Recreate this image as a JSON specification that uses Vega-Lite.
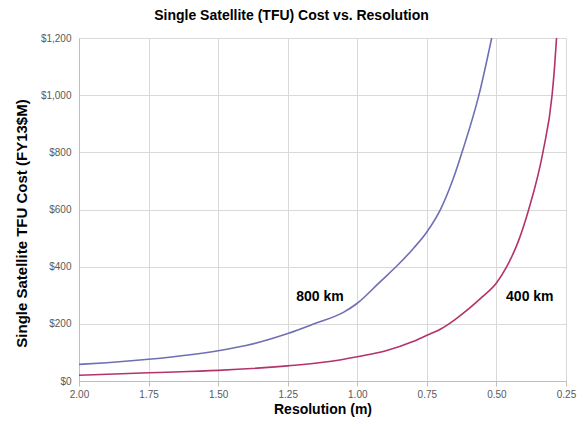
{
  "$schema": "https://vega.github.io/schema/vega-lite/v6.json",
  "autosize": "none",
  "width": 487,
  "height": 343,
  "padding": {"left": 79, "top": 38, "right": 15, "bottom": 40},
  "background": "white",
  "config": {
    "font": "Liberation Sans",
    "view": {"stroke": null},
    "axis": {
      "gridColor": "#d9d9d9",
      "gridWidth": 1,
      "domainColor": "#bfbfbf",
      "tickColor": "#bfbfbf",
      "labelColor": "#595959",
      "labelFont": "Liberation Sans",
      "labelFontSize": 10,
      "labelFlush": false,
      "titleFont": "Liberation Sans",
      "titleFontWeight": "bold",
      "titleColor": "#000000"
    }
  },
  "title": {
    "text": "Single Satellite (TFU) Cost vs. Resolution",
    "font": "Liberation Sans",
    "fontSize": 14,
    "fontWeight": "bold",
    "color": "#000000",
    "anchor": "middle",
    "dx": -31,
    "offset": 10
  },
  "datasets": {
    "curves": [
      {"res": 2.0, "cost": 58, "alt": "800 km"},
      {"res": 1.9, "cost": 64, "alt": "800 km"},
      {"res": 1.75, "cost": 76, "alt": "800 km"},
      {"res": 1.6, "cost": 92, "alt": "800 km"},
      {"res": 1.5, "cost": 106, "alt": "800 km"},
      {"res": 1.4, "cost": 124, "alt": "800 km"},
      {"res": 1.25, "cost": 166, "alt": "800 km"},
      {"res": 1.15, "cost": 202, "alt": "800 km"},
      {"res": 1.05, "cost": 240, "alt": "800 km"},
      {"res": 1.0, "cost": 272, "alt": "800 km"},
      {"res": 0.92, "cost": 345, "alt": "800 km"},
      {"res": 0.85, "cost": 410, "alt": "800 km"},
      {"res": 0.8, "cost": 462, "alt": "800 km"},
      {"res": 0.75, "cost": 521, "alt": "800 km"},
      {"res": 0.7, "cost": 602, "alt": "800 km"},
      {"res": 0.657, "cost": 703, "alt": "800 km"},
      {"res": 0.621, "cost": 808, "alt": "800 km"},
      {"res": 0.563, "cost": 1000, "alt": "800 km"},
      {"res": 0.517, "cost": 1200, "alt": "800 km"},
      {"res": 2.0, "cost": 20, "alt": "400 km"},
      {"res": 1.75, "cost": 29, "alt": "400 km"},
      {"res": 1.5, "cost": 37, "alt": "400 km"},
      {"res": 1.25, "cost": 53, "alt": "400 km"},
      {"res": 1.1, "cost": 68, "alt": "400 km"},
      {"res": 1.0, "cost": 85, "alt": "400 km"},
      {"res": 0.9, "cost": 105, "alt": "400 km"},
      {"res": 0.8, "cost": 138, "alt": "400 km"},
      {"res": 0.75, "cost": 160, "alt": "400 km"},
      {"res": 0.7, "cost": 182, "alt": "400 km"},
      {"res": 0.65, "cost": 214, "alt": "400 km"},
      {"res": 0.6, "cost": 252, "alt": "400 km"},
      {"res": 0.55, "cost": 295, "alt": "400 km"},
      {"res": 0.5, "cost": 343, "alt": "400 km"},
      {"res": 0.463, "cost": 400, "alt": "400 km"},
      {"res": 0.42, "cost": 492, "alt": "400 km"},
      {"res": 0.384, "cost": 600, "alt": "400 km"},
      {"res": 0.333, "cost": 800, "alt": "400 km"},
      {"res": 0.3, "cost": 1000, "alt": "400 km"},
      {"res": 0.291, "cost": 1100, "alt": "400 km"},
      {"res": 0.284, "cost": 1200, "alt": "400 km"}
    ],
    "labels": [
      {"res": 1.134, "cost": 294, "label": "800 km"},
      {"res": 0.38, "cost": 294, "label": "400 km"}
    ]
  },
  "layer": [
    {
      "data": {"name": "curves"},
      "mark": {"type": "line", "interpolate": "monotone", "strokeWidth": 1.6, "clip": true},
      "encoding": {
        "x": {
          "field": "res",
          "type": "quantitative",
          "title": "Resolution (m)",
          "scale": {"domain": [0.25, 2], "reverse": true, "nice": false},
          "axis": {"values": [2, 1.75, 1.5, 1.25, 1, 0.75, 0.5, 0.25], "format": ".2f", "tickSize": 5, "labelPadding": 3, "titlePadding": 3, "titleFontSize": 14}
        },
        "y": {
          "field": "cost",
          "type": "quantitative",
          "title": "Single Satellite TFU Cost  (FY13$M)",
          "scale": {"domain": [0, 1200], "nice": false},
          "axis": {"values": [0, 200, 400, 600, 800, 1000, 1200], "format": "$,.0f", "tickSize": 0, "labelPadding": 8, "titlePadding": 11, "titleFontSize": 15, "titleY": 185}
        },
        "color": {
          "field": "alt",
          "type": "nominal",
          "scale": {"domain": ["800 km", "400 km"], "range": ["#6E6FB4", "#B3336B"]},
          "legend": null
        }
      }
    },
    {
      "data": {"name": "labels"},
      "mark": {"type": "text", "font": "Liberation Sans", "fontSize": 14, "fontWeight": "bold", "color": "#000000", "align": "center", "baseline": "middle"},
      "encoding": {
        "x": {"field": "res", "type": "quantitative"},
        "y": {"field": "cost", "type": "quantitative"},
        "text": {"field": "label", "type": "nominal"}
      }
    }
  ]
}
